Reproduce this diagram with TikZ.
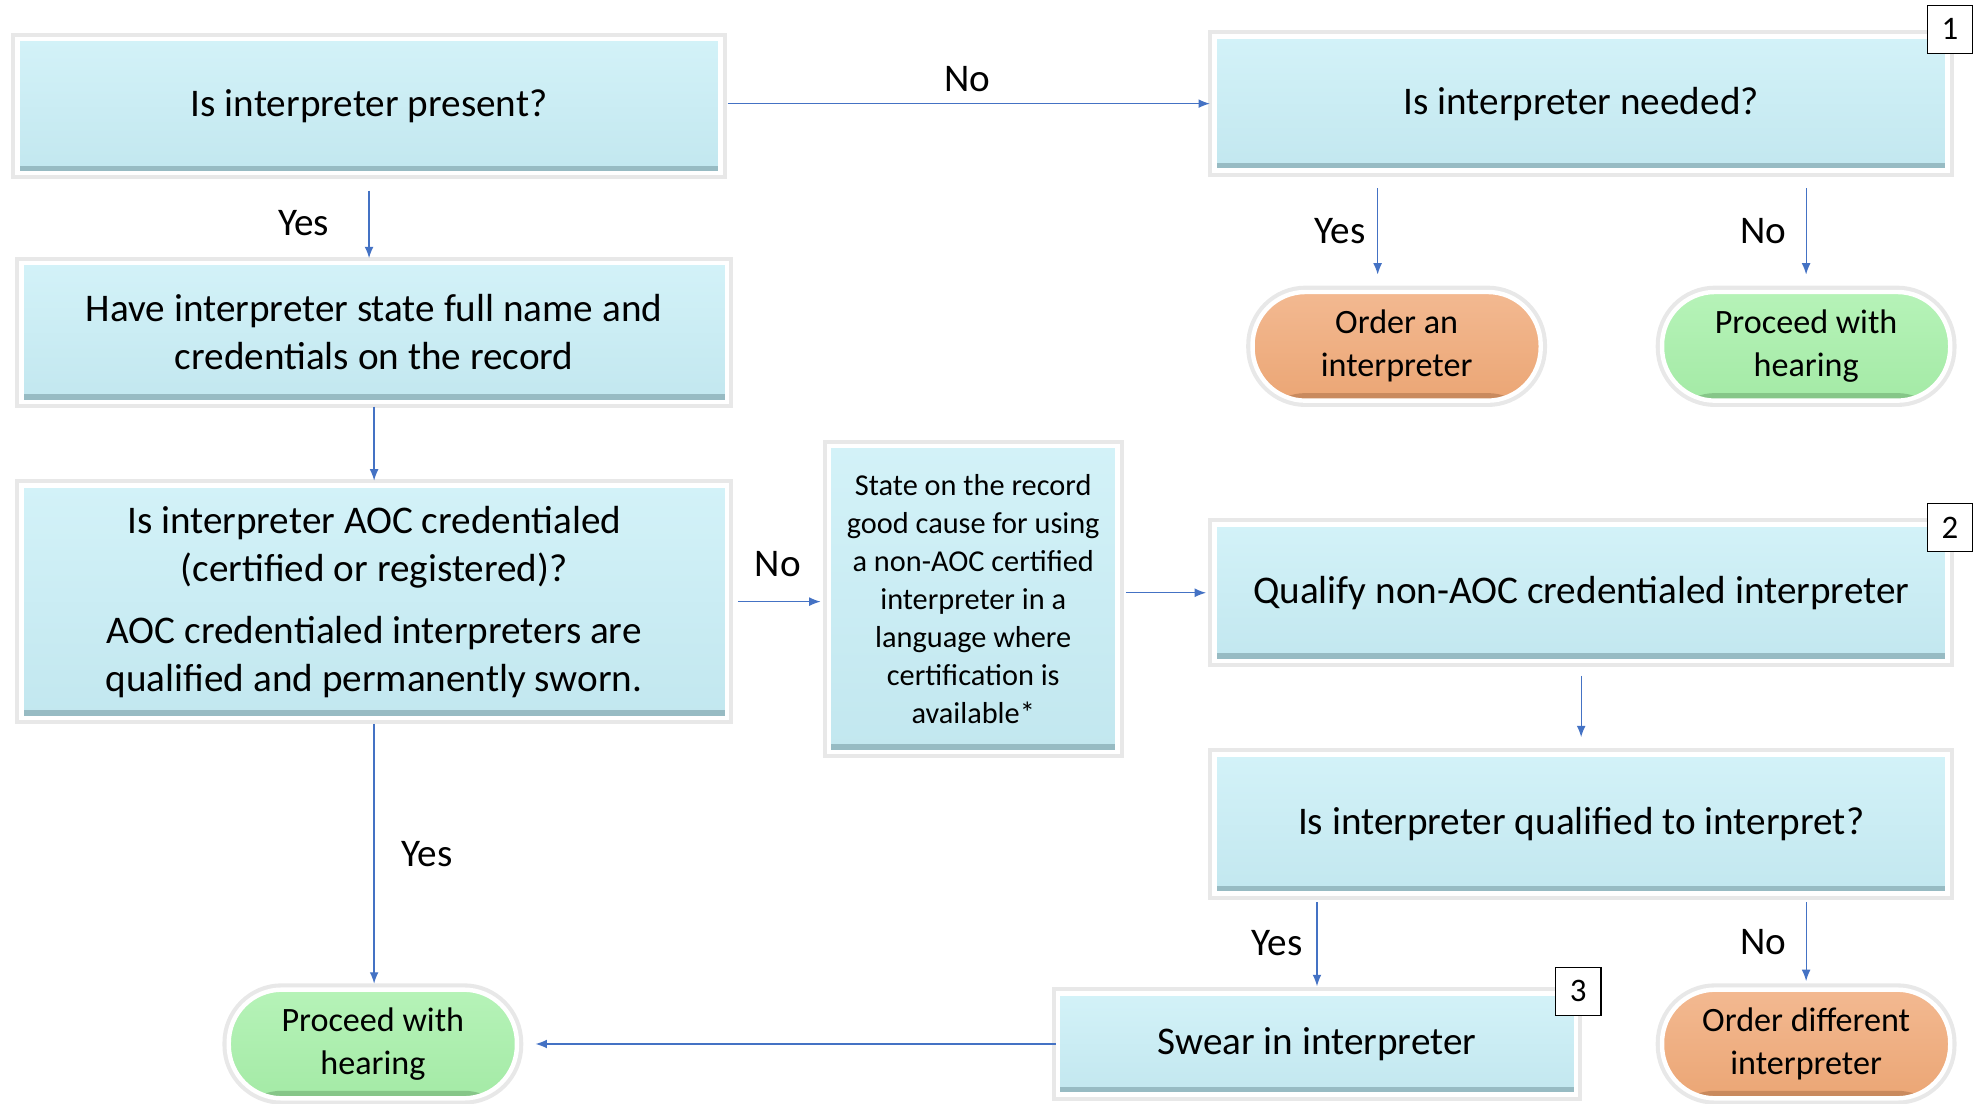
\documentclass[tikz,border=0pt]{standalone}
\usepackage{fontspec}
\setmainfont{Carlito}
\usetikzlibrary{arrows.meta}
\definecolor{boxtop}{HTML}{D3F2F8}
\definecolor{boxbot}{HTML}{C2E7EF}
\definecolor{boxrim}{HTML}{97BBC3}
\definecolor{orgtop}{HTML}{F3B991}
\definecolor{orgbot}{HTML}{EBA675}
\definecolor{orgrim}{HTML}{C98A5E}
\definecolor{grntop}{HTML}{B6F3B8}
\definecolor{grnbot}{HTML}{A4EAA6}
\definecolor{grnrim}{HTML}{86C688}
\definecolor{linkblue}{HTML}{4472C4}
\tikzset{%
    base/.style={draw=white,line width=3.5pt,preaction={draw=black!9,line width=10pt},
        align=center,inner sep=0pt,font=\fontsize{31}{38}\selectfont}
}

\begin{document}
\begin{tikzpicture}[
        x=1pt,y=-1pt,
        qbox/.style={base,top color=boxtop,bottom color=boxbot,
            path picture={\fill[boxrim] (path picture bounding box.south west) rectangle ([yshift=6pt]path picture bounding box.south east);}},
        orgpill/.style={base,rounded corners=42pt,top color=orgtop,bottom color=orgbot,
            minimum width=228,minimum height=86,font=\fontsize{27}{34}\selectfont,
            path picture={\fill[orgrim] (path picture bounding box.south west) rectangle ([yshift=6pt]path picture bounding box.south east);}},
        grnpill/.style={base,rounded corners=42pt,top color=grntop,bottom color=grnbot,
            minimum width=228,minimum height=86,font=\fontsize{27}{34}\selectfont,
            path picture={\fill[grnrim] (path picture bounding box.south west) rectangle ([yshift=6pt]path picture bounding box.south east);}},
        numbox/.style={draw=black,fill=white,line width=1pt,minimum width=36,minimum height=38,
            inner sep=0pt,font=\fontsize{26}{30}\selectfont},
        edge/.style={draw=linkblue,line width=1pt,-{Latex[length=9pt,width=7pt]}},
        lbl/.style={inner sep=2pt,font=\fontsize{31}{38}\selectfont}
        ]
        \useasboundingbox (0,0) rectangle (1565,873);

        \node[qbox,minimum width=556,minimum height=106] (present) at (292,84) {Is interpreter present?};
        \node[qbox,minimum width=580,minimum height=106] (needed) at (1251,82) {Is interpreter needed?};
        \node[qbox,minimum width=558,minimum height=110] (state) at (296,263)
            {Have interpreter state full name and\\credentials on the record};
        \node[qbox,minimum width=558,minimum height=184] (aoc) at (296,476)
            {Is interpreter AOC credentialed\\(certified or registered)?\\[11pt]
             AOC credentialed interpreters are\\qualified and permanently sworn.};
        \node[qbox,minimum width=228,minimum height=242,font=\fontsize{24}{30}\selectfont] (cause) at (770,474)
            {State on the record\\good cause for using\\a non-AOC certified\\interpreter in a\\language where\\certification is\\available*};
        \node[qbox,minimum width=580,minimum height=108] (qualify) at (1251,469) {Qualify non-AOC credentialed interpreter};
        \node[qbox,minimum width=580,minimum height=110] (qualified) at (1251,652) {Is interpreter qualified to interpret?};
        \node[qbox,minimum width=410,minimum height=80] (swear) at (1042,826) {Swear in interpreter};

        \node[orgpill] (orderint) at (1105,274) {Order an\\interpreter};
        \node[grnpill] (hearing1) at (1429,274) {Proceed with\\hearing};
        \node[orgpill] (orderdiff) at (1429,826) {Order different\\interpreter};
        \node[grnpill] (hearing2) at (295,826) {Proceed with\\hearing};

        \node[numbox] (n1) at ([yshift=4pt]needed.north east) {1};
        \node[numbox] (n2) at ([yshift=-4pt]qualify.north east) {2};
        \node[numbox] (n3) at (swear.north east) {3};

        \draw[edge,shorten <=4pt,shorten >=2pt] (present.east |- needed) -- (needed.west)
            node[lbl,midway,above=7pt] {No};
        \draw[edge,shorten <=12pt,shorten >=2pt] (present.south) -- (present.south |- state.north)
            node[lbl,midway,left=29pt,yshift=-4pt] {Yes};
        \draw[edge,shorten <=2pt,shorten >=2pt] (state) -- (aoc);
        \draw[edge,shorten <=7pt,shorten >=5pt] (aoc.east) -- (aoc.east -| cause.west)
            node[lbl,midway,above=17pt] {No};
        \draw[edge,shorten <=5pt,shorten >=5pt] (cause.east |- qualify.west) -- (qualify.west);
        \draw[edge,shorten <=12pt,shorten >=12pt] ([xshift=-15pt]orderint.north |- needed.south) -- ([xshift=-15pt]orderint.north)
            node[lbl,midway,left=7pt] {Yes};
        \draw[edge,shorten <=12pt,shorten >=12pt] (hearing1.north |- needed.south) -- (hearing1.north)
            node[lbl,midway,left=13pt] {No};
        \draw[edge,shorten <=10pt,shorten >=12pt] (qualify) -- (qualified);
        \draw[edge,shorten <=5pt,shorten >=4pt] (swear.north |- qualified.south) -- (swear.north)
            node[lbl,midway,left=9pt] {Yes};
        \draw[edge,shorten <=5pt,shorten >=5pt] (orderdiff.north |- qualified.south) -- (orderdiff.north)
            node[lbl,midway,left=13pt] {No};
        \draw[edge,shorten <=3pt,shorten >=3pt] (aoc.south) -- (aoc.south |- hearing2.north)
            node[lbl,midway,right=19pt] {Yes};
        \draw[edge,shorten >=13pt] (swear.west) -- (swear.west -| hearing2.east);
    \end{tikzpicture}
\end{document}
